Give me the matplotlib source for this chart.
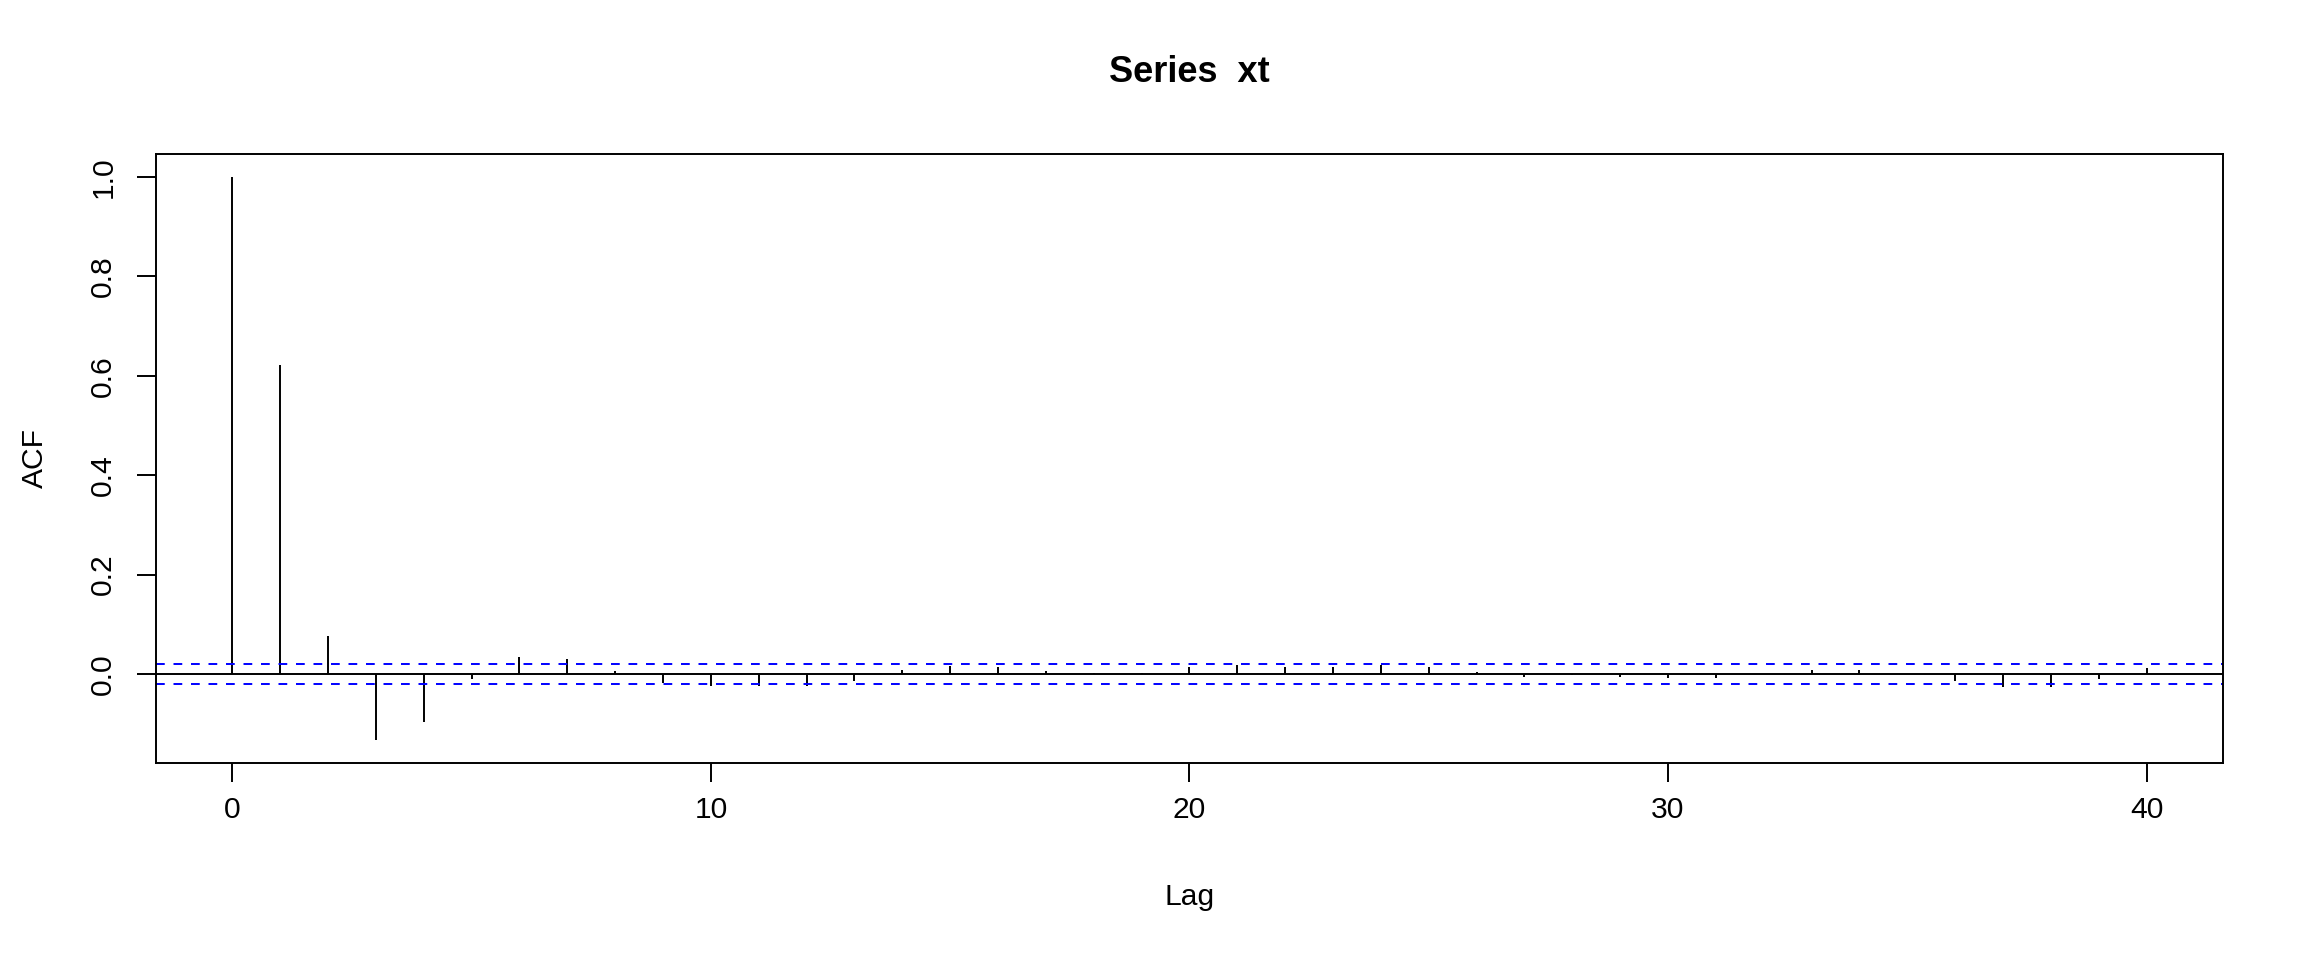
import matplotlib
matplotlib.use("Agg")
import matplotlib.pyplot as plt
import numpy as np

plt.rcParams['font.family'] = ['Liberation Sans', 'DejaVu Sans']

lags = list(range(0, 41))
acf_values = [1.0, 0.622, 0.076, -0.133, -0.097, -0.010, 0.034, 0.030, 0.005, -0.018,
              -0.024, -0.024, -0.024, -0.014, 0.0074, 0.0155, 0.0135, 0.005, 0.001, 0.001,
              0.0135, 0.0175, 0.0135, 0.0135, 0.0175, 0.0135, 0.003, -0.006, -0.003, -0.006,
              -0.009, -0.009, 0.0005, 0.0074, 0.0074, 0.0005, -0.014, -0.026, -0.026, -0.010,
              0.0115]
ci_bound = 0.0193
x_ticks = [0, 10, 20, 30, 40]
y_ticks = [0.0, 0.2, 0.4, 0.6, 0.8, 1.0]
title = "Series  xt"

fig = plt.figure(figsize=(23.04, 9.6), dpi=100)
ax = fig.add_axes([0.0676, 0.2056, 0.8973, 0.6337])

lw = 1.4
ax.vlines(lags, 0, acf_values, color='black', linewidth=lw)
ax.axhline(0, color='black', linewidth=lw)
ax.axhline(ci_bound, color='blue', linewidth=lw, linestyle=(0, (4.5, 4.5)))
ax.axhline(-ci_bound, color='blue', linewidth=lw, linestyle=(0, (4.5, 4.5)))

ymin = min(min(acf_values), -ci_bound)
ymax = max(max(acf_values), ci_bound)
yr = ymax - ymin
ax.set_ylim(ymin - 0.04 * yr, ymax + 0.04 * yr)
xr = lags[-1] - lags[0]
ax.set_xlim(lags[0] - 0.04 * xr, lags[-1] + 0.04 * xr)

ax.set_xticks(x_ticks)
ax.set_xticklabels([str(t) for t in x_ticks])
ax.set_yticks(y_ticks)
ax.set_yticklabels([f"{t:.1f}" for t in y_ticks], rotation=90, va='center')

for s in ax.spines.values():
    s.set_linewidth(lw)
ax.tick_params(axis='both', length=13.7, width=lw, labelsize=21.6, pad=10)
ax.tick_params(axis='y', pad=14)

ax.set_xlabel("Lag", fontsize=21.6, labelpad=43)
ax.set_ylabel("ACF", fontsize=21.6, labelpad=29)
fig.text(0.5 * (0.0676 + 0.9649), 1 - 72 / 960, title, ha='center', va='center',
         fontsize=26, fontweight='bold')

fig.savefig("out.png", dpi=100)
